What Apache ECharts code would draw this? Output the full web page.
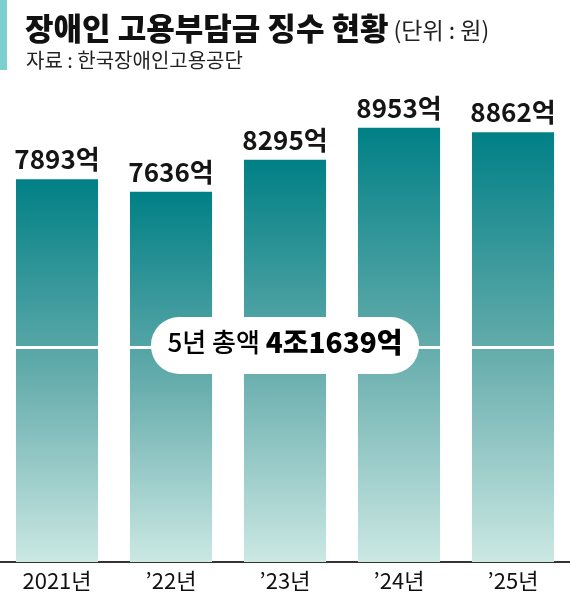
<!DOCTYPE html>
<html>
<head>
<meta charset="utf-8">
<script src="https://cdn.jsdelivr.net/npm/echarts@6/dist/echarts.min.js"></script>
<style>
html,body{margin:0;padding:0;background:#fff;}
#c{width:570px;height:600px;}
</style>
</head>
<body>
<div id="c"></div>
<script>
const categories = ['2021년', '\u201922년', '\u201923년', '\u201924년', '\u201925년'];
const values = [7893, 7636, 8295, 8953, 8862];
const titleMain = '장애인 고용부담금 징수 현황';
const titleUnit = '(단위 : 원)';
const sourceText = '자료 : 한국장애인고용공단';
const totalPrefix = '5년 총액';
const totalValue = '4조1639억';
const dividerValue = 4420;

const FONT = '"Noto Sans CJK KR", "Noto Sans", sans-serif';
const chart = echarts.init(document.getElementById('c'), null, {renderer: 'canvas'});

chart.setOption({
  backgroundColor: '#fff',
  animation: false,
  title: [{
    left: 20, top: 2,
    text: '{a|' + titleMain + '} {b|' + titleUnit + '}',
    textStyle: {
      fontWeight: 'normal',
      rich: {
        a: {fontFamily: FONT, fontSize: 31, fontWeight: 900, color: '#111', lineHeight: 42},
        b: {fontFamily: FONT, fontSize: 23, fontWeight: 'normal', color: '#222', lineHeight: 42, padding: [4, 0, 0, 0]}
      }
    }
  }, {
    left: 21, top: 45,
    text: sourceText,
    textStyle: {fontFamily: FONT, fontSize: 20, fontWeight: 'normal', color: '#222'}
  }],
  grid: {left: 0, right: 0, top: 77, bottom: 38, containLabel: false},
  xAxis: {
    type: 'category',
    data: categories,
    axisLine: {lineStyle: {color: '#333', width: 2}},
    axisTick: {show: false},
    axisLabel: {fontFamily: FONT, fontSize: 22, color: '#111', margin: 8}
  },
  yAxis: {
    type: 'value', min: 0, max: 10000, show: false,
    splitLine: {show: false}
  },
  graphic: [{
    type: 'rect',
    shape: {x: 0, y: 0, width: 7, height: 70},
    style: {fill: '#7ccfcf'}
  }, {
    type: 'rect',
    z: 100,
    left: 'center', top: 317,
    shape: {x: 0, y: 0, width: 268, height: 57, r: 28},
    style: {fill: '#fff'}
  }, {
    type: 'text',
    z: 101,
    left: 'center', top: 328,
    style: {
      text: '{a|' + totalPrefix + ' }{b|' + totalValue + '}',
      rich: {
        a: {fontFamily: FONT, fontSize: 26, fontWeight: 500, color: '#111', lineHeight: 36},
        b: {fontFamily: FONT, fontSize: 28, fontWeight: 900, color: '#111', lineHeight: 36}
      }
    }
  }],
  series: [{
    type: 'bar',
    data: values,
    barCategoryGap: '28%',
    itemStyle: {
      color: new echarts.graphic.LinearGradient(0, 0, 0, 1, [
        {offset: 0, color: '#008086'},
        {offset: 0.5, color: '#63abab'},
        {offset: 1, color: '#cbe8e3'}
      ])
    },
    label: {
      show: true, position: 'top', distance: 7,
      formatter: p => p.value + '억',
      fontFamily: FONT, fontSize: 26, fontWeight: 'bold', color: '#151515'
    },
    markLine: {
      silent: true, symbol: 'none', label: {show: false},
      lineStyle: {color: '#fff', width: 3, type: 'solid'},
      data: [{yAxis: dividerValue}]
    }
  }]
});
</script>
</body>
</html>
